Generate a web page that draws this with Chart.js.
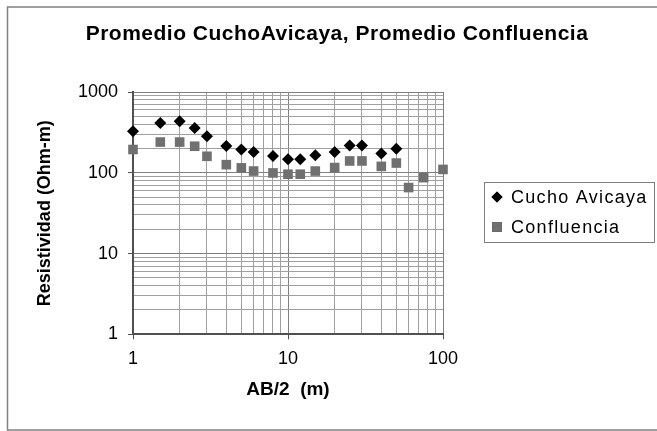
<!DOCTYPE html>
<html>
<head>
<meta charset="utf-8">
<script src="https://cdn.jsdelivr.net/npm/chart.js@4/dist/chart.umd.min.js"></script>
<style>
  html, body { margin: 0; padding: 0; background: #fff; }
  #wrap { width: 657px; height: 431px; }
</style>
</head>
<body>
<div id="wrap"><canvas id="chart"></canvas></div>
<script>
// chart texts
var chartTitle = 'Promedio CuchoAvicaya, Promedio Confluencia'
var xTitle = 'AB/2  (m)'
var yTitle = 'Resistividad (Ohm-m)'

// AB/2 spacing (m) and apparent resistivity (Ohm-m)
var cuchoX = [1, 1.5, 2, 2.5, 3, 4, 5, 6, 8, 10, 12, 15, 20, 25, 30, 40, 50]
var cuchoY = [326, 413, 433, 358, 283, 214, 194, 181, 161, 147, 147, 165, 181, 217, 217, 173, 199]

var confX = [1, 1.5, 2, 2.5, 3, 4, 5, 6, 8, 10, 12, 15, 20, 25, 30, 40, 50, 60, 75, 100]
var confY = [194, 240, 240, 213, 160, 126, 115, 105, 99.5, 96, 96, 105, 116, 140, 140, 120, 132, 65.6, 87, 110]

// labelled ticks (powers of ten)
var xTickLabels = [1, 10, 100]
var yTickLabels = [1, 10, 100, 1000]

function toPoints(xs, ys) {
    return xs.map(function (x, i) { return { x: x, y: ys[i] } })
}

// 1..9 times every decade, so the minor grid shows up
function logTicks(scale) {
    var ticks = []
    for (var d = scale.min; d < scale.max; d *= 10) {
        for (var m = 1; m < 10; m++) ticks.push({ value: d * m })
    }
    ticks.push({ value: scale.max })
    scale.ticks = ticks
}

function isMajor(v, labels) {
    return labels.indexOf(Math.round(v * 1000) / 1000) !== -1
}

// frame, title and boxed legend (drawn by hand like the spreadsheet)
var decor = {
    id: 'decor',
    beforeDraw: function (chart) {
        var ctx = chart.ctx
        ctx.save()
        ctx.strokeStyle = '#808080'
        ctx.lineWidth = 1.5
        ctx.strokeRect(7.5, 7, 660, 423)
        ctx.restore()
    },
    afterDraw: function (chart) {
        var ctx = chart.ctx
        ctx.save()
        ctx.fillStyle = '#000'
        ctx.font = 'bold 21px "Liberation Sans", Arial, sans-serif'
        ctx.textAlign = 'center'
        ctx.textBaseline = 'alphabetic'
        ctx.letterSpacing = '0.5px'
        ctx.fillText(chartTitle, 337, 40)

        // legend box
        ctx.strokeStyle = '#808080'
        ctx.lineWidth = 1
        ctx.strokeRect(484.5, 182.5, 170, 60)
        ctx.font = '18px "Liberation Sans", Arial, sans-serif'
        ctx.textAlign = 'left'
        ctx.textBaseline = 'middle'
        ctx.letterSpacing = '1.3px'
        var rows = [197, 227]
        chart.data.datasets.forEach(function (ds, i) {
            Chart.helpers.drawPoint(ctx, {
                pointStyle: ds.pointStyle,
                radius: i === 0 ? 5.5 : 7,
                borderWidth: 0
            }, 497, rows[i])
            ctx.fillStyle = ds.backgroundColor
            ctx.fill()
            ctx.fillStyle = '#000'
            ctx.fillText(ds.label, 511, rows[i] + 1)
        })
        ctx.restore()
    }
}

var fontFamily = '"Liberation Sans", Arial, sans-serif'

new Chart(document.getElementById('chart'), {
    type: 'scatter',
    data: {
        datasets: [
            {
                label: 'Cucho Avicaya',
                data: toPoints(cuchoX, cuchoY),
                pointStyle: 'rectRot',
                pointRadius: 6,
                backgroundColor: '#000000',
                borderColor: '#000000',
                borderWidth: 0,
                clip: false
            },
            {
                label: 'Confluencia',
                data: toPoints(confX, confY),
                pointStyle: 'rect',
                pointRadius: 6.8,
                backgroundColor: '#707070',
                borderColor: '#707070',
                borderWidth: 0,
                clip: false
            }
        ]
    },
    options: {
        responsive: true,
        maintainAspectRatio: false,
        animation: false,
        layout: { padding: { left: 0, right: 214, top: 92, bottom: 0 } },
        plugins: {
            legend: { display: false },
            title: { display: false },
            tooltip: { enabled: false }
        },
        scales: {
            x: {
                type: 'logarithmic',
                min: 1,
                max: 100,
                afterBuildTicks: logTicks,
                afterFit: function (s) { s.height = 96.7 },
                border: { color: '#505050', width: 2 },
                grid: {
                    color: function (c) { return isMajor(c.tick.value, xTickLabels) ? '#808080' : '#a0a0a0' },
                    tickColor: function (c) { return isMajor(c.tick.value, xTickLabels) ? '#505050' : 'rgba(0,0,0,0)' },
                    tickLength: 5
                },
                ticks: {
                    autoSkip: false,
                    maxRotation: 0,
                    padding: 9,
                    color: '#000',
                    font: { family: fontFamily, size: 18 },
                    callback: function (v) { return isMajor(v, xTickLabels) ? String(Math.round(v)) : '' }
                },
                title: {
                    display: true,
                    text: xTitle,
                    color: '#000',
                    font: { family: fontFamily, size: 19, weight: 'bold' },
                    padding: { top: 0, bottom: 30 }
                }
            },
            y: {
                type: 'logarithmic',
                min: 1,
                max: 1000,
                afterBuildTicks: logTicks,
                afterFit: function (s) { s.width = 133 },
                border: { color: '#505050', width: 2 },
                grid: {
                    color: function (c) { return isMajor(c.tick.value, yTickLabels) ? '#808080' : '#a0a0a0' },
                    tickColor: function (c) { return isMajor(c.tick.value, yTickLabels) ? '#505050' : 'rgba(0,0,0,0)' },
                    tickLength: 5
                },
                ticks: {
                    autoSkip: false,
                    padding: 10,
                    color: '#000',
                    font: { family: fontFamily, size: 18 },
                    callback: function (v) { return isMajor(v, yTickLabels) ? String(Math.round(v)) : '' }
                },
                title: {
                    display: true,
                    text: yTitle,
                    color: '#000',
                    font: { family: fontFamily, size: 18, weight: 'bold' },
                    padding: { top: 34, bottom: 0 }
                }
            }
        }
    },
    plugins: [decor]
})
</script>
</body>
</html>
